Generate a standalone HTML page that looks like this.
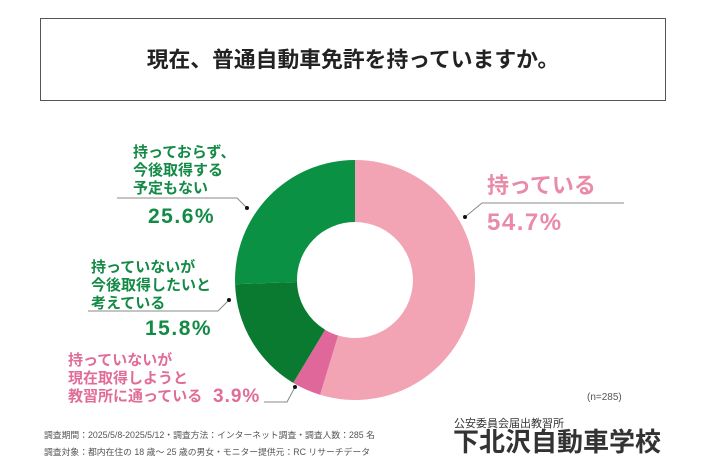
<!DOCTYPE html>
<html><head><meta charset="utf-8"><style>
body{margin:0;width:710px;height:474px;background:#fff;overflow:hidden;font-family:"Liberation Sans","Noto Sans CJK JP",sans-serif}
</style></head><body>
<svg width="710" height="474" xmlns="http://www.w3.org/2000/svg" style="position:absolute;left:0;top:0;font-family:'Liberation Sans','Noto Sans CJK JP',sans-serif">
<rect x="40.5" y="18.5" width="625" height="82" fill="#fff" stroke="#555" stroke-width="1"/>
<text x="353" y="67" text-anchor="middle" font-size="21.8" font-weight="bold" fill="#222">現在、普通自動車免許を持っていますか。</text>
<path d="M355,160 A120,120 0 1 1 320.1,394.8 L338.1,335.5 A58,58 0 1 0 355,222 Z" fill="#f2a3b4"/>
<path d="M320.1,394.8 A120,120 0 0 1 293.2,382.9 L325.1,329.7 A58,58 0 0 0 338.1,335.5 Z" fill="#e0679a"/>
<path d="M293.2,382.9 A120,120 0 0 1 235.1,284.2 L297,282 A58,58 0 0 0 325.1,329.7 Z" fill="#0a7a30"/>
<path d="M235.1,284.2 A120,120 0 0 1 355,160 L355,222 A58,58 0 0 0 297,282 Z" fill="#0b9143"/>
<g font-weight="bold">
<text x="487" y="193" font-size="22" fill="#e98aa8">持っている</text>
<text x="487" y="230" font-size="24" letter-spacing="1.5" fill="#e98aa8">54.7%</text>
<text font-size="15" fill="#138a45"><tspan x="133" y="157">持っておらず、</tspan><tspan x="133" y="175">今後取得する</tspan><tspan x="133" y="193">予定もない</tspan></text>
<text x="148" y="223" font-size="21" letter-spacing="1.5" fill="#138a45">25.6%</text>
<text font-size="15" fill="#138a45"><tspan x="91" y="272">持っていないが</tspan><tspan x="91" y="290">今後取得したいと</tspan><tspan x="91" y="308">考えている</tspan></text>
<text x="145" y="335" font-size="21" letter-spacing="1.5" fill="#138a45">15.8%</text>
<text font-size="15" fill="#e06c98"><tspan x="68" y="365">持っていないが</tspan><tspan x="68" y="383">現在取得しようと</tspan><tspan x="68" y="401">教習所に通っている</tspan></text>
<text x="213" y="402" font-size="19" letter-spacing="1" fill="#e06c98">3.9%</text>
</g>
<g stroke="#888" fill="none" stroke-width="1">
<polyline points="624,203 482,203 465,217"/>
<polyline points="117,198 237,198 247,208"/>
<polyline points="88,311 218,311 229,300"/>
<polyline points="264,402 287,402 295,387"/>
</g>
<g fill="#111"><circle cx="465" cy="217" r="2"/><circle cx="247" cy="208" r="2"/><circle cx="229" cy="300" r="2"/><circle cx="295" cy="387" r="2"/></g>
<text x="587" y="400" font-size="10" fill="#555">(n=285)</text>
<text x="44" y="438" font-size="8.8" fill="#555">調査期間：2025/5/8-2025/5/12・調査方法：インターネット調査・調査人数：285 名</text>
<text x="44" y="455" font-size="8.8" fill="#555">調査対象：都内在住の 18 歳～ 25 歳の男女・モニター提供元：RC リサーチデータ</text>
<text x="454" y="427" font-size="11" fill="#333">公安委員会届出教習所</text>
<text x="453" y="451" font-size="26" font-weight="bold" fill="#333">下北沢自動車学校</text>
</svg>
</body></html>
